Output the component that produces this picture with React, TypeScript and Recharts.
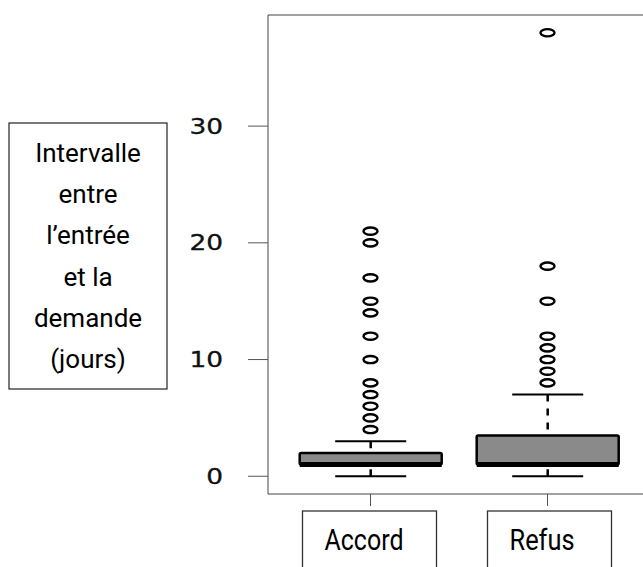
import React from 'react';
import { ComposedChart, Bar, Scatter, XAxis, YAxis, Customized } from 'recharts';

// box statistics, one entry per group
const groups = ['Accord', 'Refus'];
const mins = [0, 0];
const q1s = [1, 1];
const medians = [1, 1];
const q3s = [2, 3.5];
const maxs = [3, 7];

// outliers
const accordOutliers = [4, 5, 6, 7, 8, 10, 12, 14, 15, 17, 20, 21];
const refusOutliers = [8, 9, 10, 11, 12, 15, 18, 38];

const yTicks = [0, 10, 20, 30];
const yDomain = [-1.52, 39.52];
const yTitleLines = ['Intervalle', 'entre', 'l’entrée', 'et la', 'demande', '(jours)'];

const boxData = groups.map((name, i) => ({
  name,
  min: mins[i],
  q1: q1s[i],
  median: medians[i],
  q3: q3s[i],
  max: maxs[i],
}));

const outlierData = [
  ...accordOutliers.map((v) => ({ name: groups[0], v })),
  ...refusOutliers.map((v) => ({ name: groups[1], v })),
];

// label box geometry around each category name (relative to tick centre)
const labelBoxes: Record<string, { left: number; right: number; textWidth: number }> = {
  Accord: { left: -68, right: 66, textWidth: 79 },
  Refus: { left: -60, right: 64, textWidth: 65 },
};

const frameColor = '#444';

const BoxShape = (props: any) => {
  const { x, y, width, height, payload } = props;
  if (!payload) return null;
  const top = Math.min(y, y + height);
  const span = Math.abs(height);
  const range = payload.max - payload.min || 1;
  const py = (v: number) => top + (span * (payload.max - v)) / range;
  const cx = x + width / 2;
  const cap = width / 4;
  return (
    <g>
      <line x1={cx} x2={cx} y1={py(payload.max)} y2={py(payload.q3)} stroke="#000" strokeWidth={2.5} strokeDasharray="7 7" />
      <line x1={cx} x2={cx} y1={py(payload.min)} y2={py(payload.q1)} stroke="#000" strokeWidth={2.5} strokeDasharray="7 7" />
      <line x1={cx - cap} x2={cx + cap} y1={py(payload.max)} y2={py(payload.max)} stroke="#000" strokeWidth={2} />
      <line x1={cx - cap} x2={cx + cap} y1={py(payload.min)} y2={py(payload.min)} stroke="#000" strokeWidth={2} />
      <rect
        x={x}
        y={py(payload.q3)}
        width={width}
        height={py(payload.q1) - py(payload.q3)}
        fill="#8a8a8a"
        stroke="#000"
        strokeWidth={2.5}
        rx={1.5}
      />
      <line x1={x} x2={x + width} y1={py(payload.median)} y2={py(payload.median)} stroke="#000" strokeWidth={5} />
    </g>
  );
};

const Ring = (props: any) => {
  const { cx, cy } = props;
  if (cx == null || cy == null) return null;
  return <ellipse cx={cx} cy={cy} rx={7} ry={3.6} fill="none" stroke="#000" strokeWidth={2.4} />;
};

const YTick = (props: any) => {
  const { x, y, payload } = props;
  const label = String(payload.value);
  return (
    <text
      x={x}
      y={y + 7.5}
      textAnchor="end"
      fontFamily="DejaVu Sans"
      fontSize={20.5}
      fill="#111"
      stroke="#111"
      strokeWidth={0.3}
      textLength={label.length * 16.8}
      lengthAdjust="spacingAndGlyphs"
    >
      {label}
    </text>
  );
};

const XTick = (props: any) => {
  const { x, y, payload } = props;
  const box = labelBoxes[payload.value] || { left: -60, right: 60, textWidth: 70 };
  return (
    <g>
      <rect x={x + box.left} y={y + 5} width={box.right - box.left} height={120} fill="none" stroke="#333" strokeWidth={1.3} />
      <text
        x={x + box.left + 22}
        y={y + 44}
        fontFamily="Roboto"
        fontSize={30}
        fill="#000"
        textLength={box.textWidth}
        lengthAdjust="spacingAndGlyphs"
      >
        {payload.value}
      </text>
    </g>
  );
};

const TitleBox = () => (
  <g>
    <rect x={1} y={115} width={158} height={266} fill="none" stroke="#333" strokeWidth={1.3} />
    {yTitleLines.map((t, i) => (
      <text key={i} x={80} y={154 + i * 41.2} textAnchor="middle" fontFamily="Roboto" fontSize={26} fill="#000">
        {t}
      </text>
    ))}
  </g>
);

export default function App() {
  // fixed so the chart can run off the right and bottom edges without scrollbars
  return (
    <div style={{ position: 'fixed', left: 8, top: 8, width: 635, height: 559, overflow: 'hidden', background: '#fff' }}>
      <ComposedChart
        width={660}
        height={559}
        data={boxData}
        margin={{ top: 6, right: 18, bottom: 0, left: 0 }}
        barCategoryGap="10%"
      >
        <XAxis
          dataKey="name"
          type="category"
          allowDuplicatedCategory={false}
          padding={{ left: 14, right: 14 }}
          height={73}
          tickSize={12}
          tickMargin={0}
          tickLine={{ stroke: '#555' }}
          axisLine={{ stroke: frameColor }}
          tick={<XTick />}
          interval={0}
        />
        <XAxis
          xAxisId="top"
          orientation="top"
          dataKey="name"
          type="category"
          allowDuplicatedCategory={false}
          height={1}
          tick={false}
          tickLine={false}
          axisLine={{ stroke: frameColor }}
        />
        <YAxis
          type="number"
          domain={yDomain}
          allowDataOverflow
          ticks={yTicks}
          width={260}
          tickSize={20}
          tickMargin={25}
          tickLine={{ stroke: '#555' }}
          axisLine={{ stroke: frameColor }}
          tick={<YTick />}
        />
        <Bar dataKey={(d: any) => [d.min, d.max]} shape={<BoxShape />} isAnimationActive={false} />
        <Scatter data={outlierData} dataKey="v" shape={<Ring />} isAnimationActive={false} />
        <Customized component={TitleBox} />
      </ComposedChart>
    </div>
  );
}
